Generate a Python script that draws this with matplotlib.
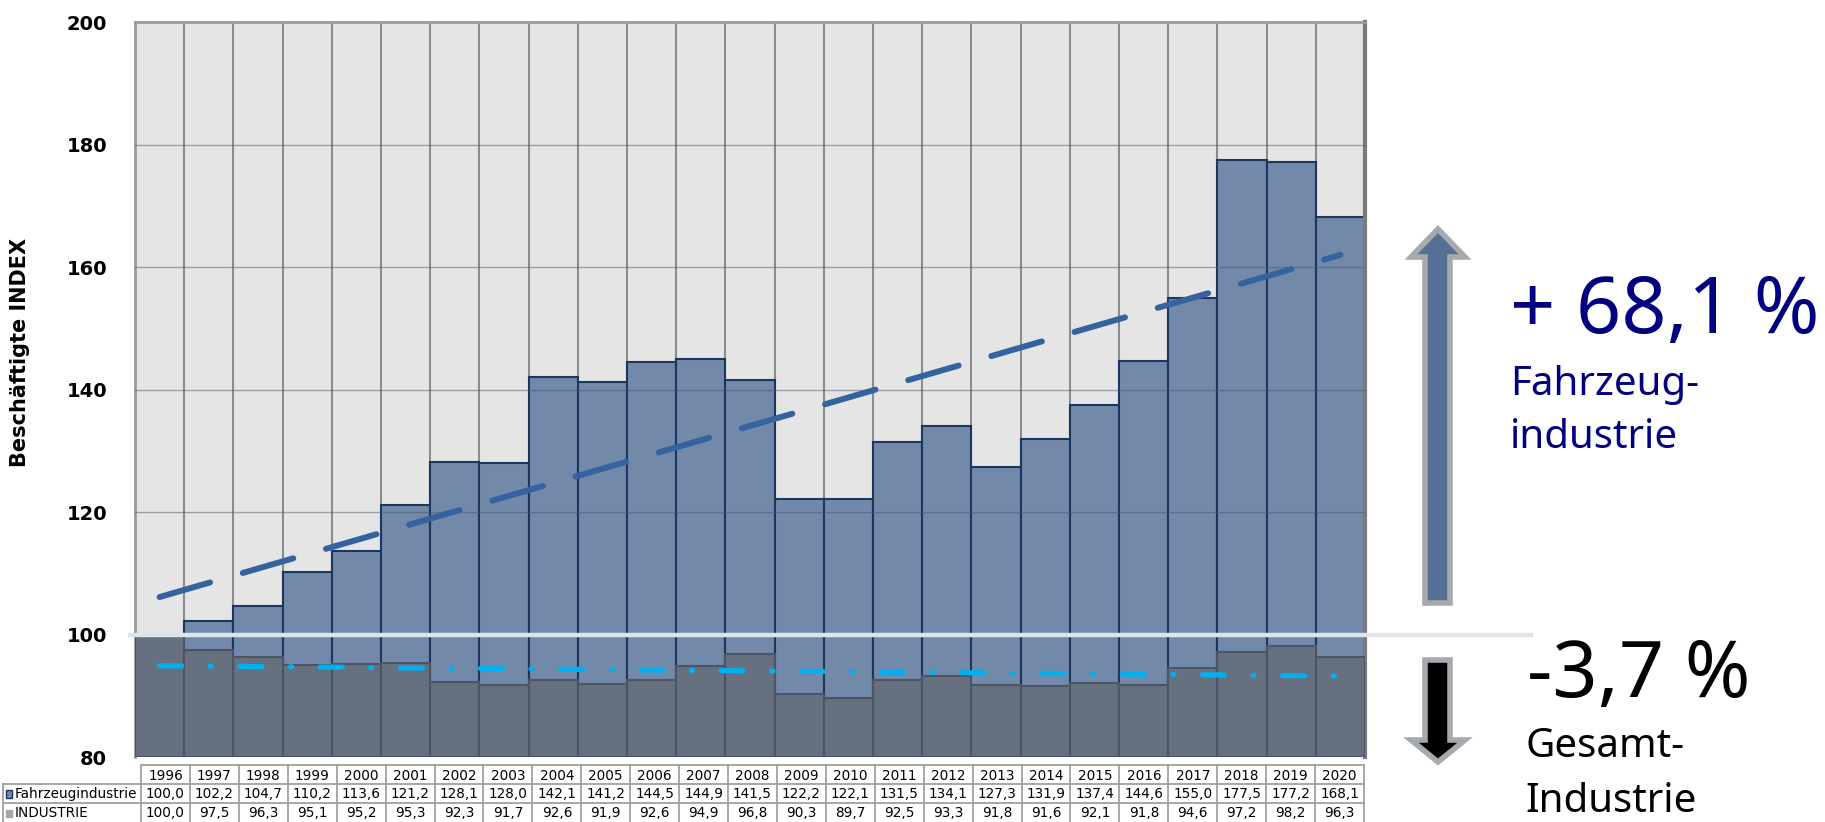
import numpy as np
import matplotlib
matplotlib.use("Agg")
import matplotlib.pyplot as plt
from matplotlib.patches import Polygon, Rectangle
from matplotlib.lines import Line2D

# ---------------- data ----------------
years = [1996, 1997, 1998, 1999, 2000, 2001, 2002, 2003, 2004, 2005, 2006, 2007,
         2008, 2009, 2010, 2011, 2012, 2013, 2014, 2015, 2016, 2017, 2018, 2019, 2020]
fahrzeug = [100.0, 102.2, 104.7, 110.2, 113.6, 121.2, 128.1, 128.0, 142.1, 141.2, 144.5, 144.9,
            141.5, 122.2, 122.1, 131.5, 134.1, 127.3, 131.9, 137.4, 144.6, 155.0, 177.5, 177.2, 168.1]
industrie = [100.0, 97.5, 96.3, 95.1, 95.2, 95.3, 92.3, 91.7, 92.6, 91.9, 92.6, 94.9,
             96.8, 90.3, 89.7, 92.5, 93.3, 91.8, 91.6, 92.1, 91.8, 94.6, 97.2, 98.2, 96.3]
series_names = ["Fahrzeugindustrie", "INDUSTRIE"]
y_ticks = [80, 100, 120, 140, 160, 180, 200]
y_label = "Beschäftigte INDEX"
txt_fahr_pct = "+ 68,1 %"
txt_fahr_name = ["Fahrzeug-", "industrie"]
txt_ind_pct = "-3,7 %"
txt_ind_name = ["Gesamt-", "Industrie"]

# ---------------- figure ----------------
W, H = 1825, 822
fig = plt.figure(figsize=(W / 100, H / 100), dpi=100)


def P(x, y):
    return (x / W, 1 - y / H)


ax_l, ax_r, ax_t, ax_b = 135, 1365, 22, 757
ax = fig.add_axes([ax_l / W, 1 - ax_b / H, (ax_r - ax_l) / W, (ax_b - ax_t) / H])
ax.set_facecolor("#e5e5e5")

x = np.arange(len(years))
fz = np.array(fahrzeug)
ind = np.array(industrie)
base = y_ticks[0]

# vertical grid lines at category boundaries (behind bars)
for b in np.arange(-0.5, len(years), 1.0):
    ax.axvline(b, color="#8c8c8c", lw=1.5, zorder=0.5)

ax.bar(x, fz - base, bottom=base, width=1.0, color="#7389aa",
       edgecolor="#1b365f", linewidth=1.5, zorder=2)
ax.bar(x, ind - base, bottom=base, width=1.0, color="#66707f",
       edgecolor="#4b5566", linewidth=1.5, zorder=3)

# horizontal grid lines (visible over bars)
for yv in y_ticks[2:-1]:
    ax.axhline(yv, color="#4a5a70", alpha=0.5, lw=1.0, zorder=4)

# linear trend lines
cf = np.polyfit(x, fz, 1)
ci = np.polyfit(x, ind, 1)
l1, = ax.plot(x, np.polyval(cf, x), color="#3563a0", lw=4.3, zorder=6,
              solid_capstyle="round", dash_capstyle="round")
l1.set_dashes([8.8, 5.7])
l2, = ax.plot(x, np.polyval(ci, x), color="#00b0f0", lw=3.8, zorder=6,
              dash_capstyle="round")
l2.set_dashes([4.2, 5.4, 0.2, 5.4])

# 100 reference line extending beyond the plot
tr = matplotlib.transforms.blended_transform_factory(ax.transAxes, ax.transData)
ax.plot([(128 - ax_l) / (ax_r - ax_l), (1533 - ax_l) / (ax_r - ax_l)], [100, 100],
        transform=tr, color="#dfe3ea", lw=3.2, zorder=7, clip_on=False,
        solid_capstyle="butt")

ax.set_xlim(-0.5, len(years) - 0.5)
ax.set_ylim(y_ticks[0], y_ticks[-1])
ax.set_yticks(y_ticks)
ax.set_yticklabels([str(v) for v in y_ticks], fontsize=14, fontweight="bold",
                   family="DejaVu Sans")
ax.tick_params(axis="y", length=0, pad=20)
ax.set_xticks([])
for s in ["top", "left"]:
    ax.spines[s].set_color("#9a9a9a")
    ax.spines[s].set_linewidth(2)
ax.spines["right"].set_color("#7a7a7a")
ax.spines["right"].set_linewidth(3)
ax.spines["bottom"].set_visible(False)

fig.text(*P(20, 352), y_label, rotation=90, ha="center", va="center",
         fontsize=15, fontweight="bold", family="DejaVu Sans")

# ---------------- arrows ----------------
up = [P(1425, 603), P(1450, 603), P(1450, 257), P(1465, 257), P(1438, 229),
      P(1411, 257), P(1425, 257)]
fig.add_artist(Polygon(up, closed=True, transform=fig.transFigure,
                       facecolor="#566f94", edgecolor="#a6a9ad", lw=4,
                       joinstyle="miter"))
down = [P(1425, 660), P(1450, 660), P(1450, 740), P(1465, 740), P(1438, 762),
        P(1411, 740), P(1425, 740)]
fig.add_artist(Polygon(down, closed=True, transform=fig.transFigure,
                       facecolor="#000000", edgecolor="#a6a9ad", lw=4,
                       joinstyle="miter"))

# ---------------- annotation texts ----------------
fig.text(*P(1510, 333), txt_fahr_pct, fontsize=57, family="Noto Sans",
         color="#000080", ha="left", va="baseline")
fig.text(*P(1510, 395), txt_fahr_name[0], fontsize=29, family="Noto Sans",
         color="#000080", ha="left", va="baseline")
fig.text(*P(1510, 448), txt_fahr_name[1], fontsize=29, family="Noto Sans",
         color="#000080", ha="left", va="baseline")
fig.text(*P(1527, 697), txt_ind_pct, fontsize=57, family="Noto Sans",
         color="#000000", ha="left", va="baseline")
fig.text(*P(1525, 757), txt_ind_name[0], fontsize=29, family="Noto Sans",
         color="#000000", ha="left", va="baseline")
fig.text(*P(1525, 812), txt_ind_name[1], fontsize=29, family="Noto Sans",
         color="#000000", ha="left", va="baseline")

# ---------------- data table ----------------
t_left, t_lab, t_right = 3, 141, 1364
rows_y = [765, 784, 803, 823]
ncol = len(years)
cw = (t_right - t_lab) / ncol
gc = "#a0a0a0"


def hline(x0, x1, y):
    fig.add_artist(Line2D([x0 / W, x1 / W], [1 - y / H, 1 - y / H],
                          transform=fig.transFigure, color=gc, lw=1.3))


def vline(xx, y0, y1):
    fig.add_artist(Line2D([xx / W, xx / W], [1 - y0 / H, 1 - y1 / H],
                          transform=fig.transFigure, color=gc, lw=1.3))


hline(t_lab, t_right, rows_y[0])
hline(t_left, t_right, rows_y[1])
hline(t_left, t_right, rows_y[2])
vline(t_left, rows_y[1], rows_y[3])
for i in range(ncol + 1):
    vline(t_lab + i * cw, rows_y[0], rows_y[3])

tf = dict(fontsize=9.8, family="DejaVu Sans", color="#000000")
for i, yr in enumerate(years):
    cx = t_lab + (i + 0.5) * cw
    fig.text(cx / W, 1 - ((rows_y[0] + rows_y[1]) / 2 + 1) / H, str(yr),
             ha="center", va="center", **tf)
    fig.text(cx / W, 1 - (rows_y[1] + rows_y[2]) / 2 / H,
             f"{fahrzeug[i]:.1f}".replace(".", ","), ha="center", va="center", **tf)
    fig.text(cx / W, 1 - (rows_y[2] + rows_y[3]) / 2 / H,
             f"{industrie[i]:.1f}".replace(".", ","), ha="center", va="center", **tf)

# legend keys + row labels
fig.add_artist(Rectangle(P(6, 798), 6 / W, 8 / H, transform=fig.transFigure,
                         facecolor="#7389aa", edgecolor="#1b365f", lw=1))
fig.add_artist(Rectangle(P(6, 817), 6 / W, 7 / H, transform=fig.transFigure,
                         facecolor="#a6a6a6", edgecolor="#a6a6a6", lw=1))
fig.text(15 / W, 1 - (rows_y[1] + rows_y[2]) / 2 / H, series_names[0],
         ha="left", va="center", **tf)
fig.text(15 / W, 1 - (rows_y[2] + rows_y[3]) / 2 / H, series_names[1],
         ha="left", va="center", **tf)

fig.savefig("out.png", dpi=100)
